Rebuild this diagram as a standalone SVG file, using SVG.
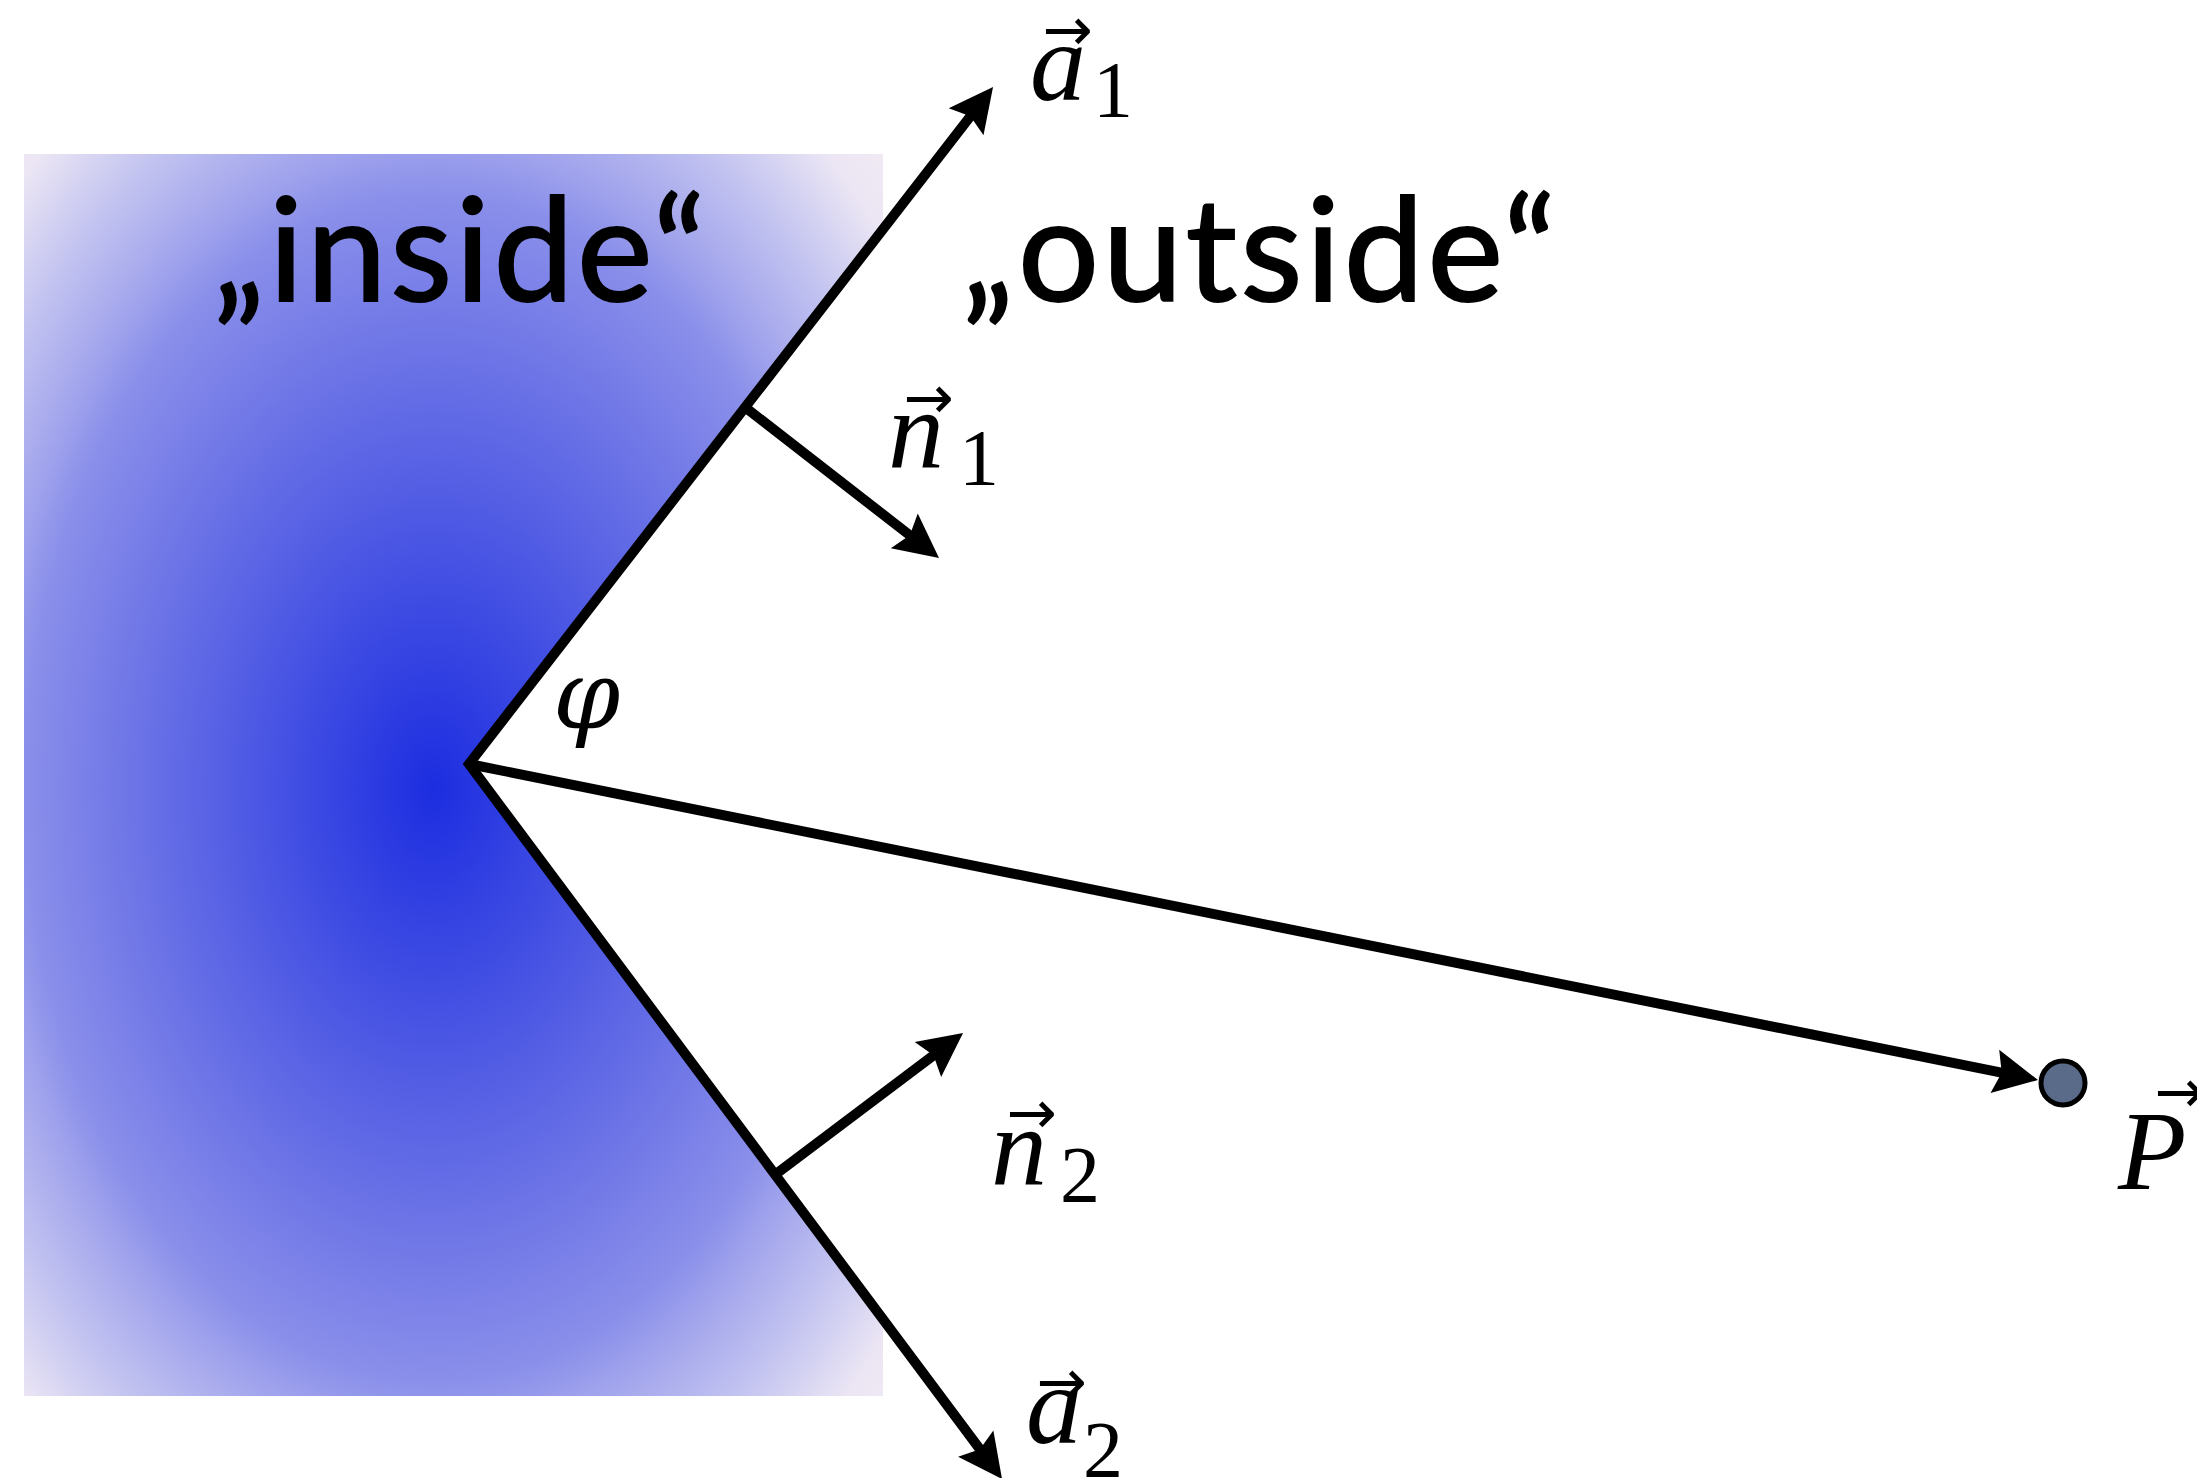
<svg xmlns="http://www.w3.org/2000/svg" width="2197" height="1478" viewBox="0 0 2197 1478">
<style>
.ln{fill:none;stroke:#000;stroke-width:10;stroke-linejoin:miter;stroke-linecap:butt}
.big{font-family:Lato,"Open Sans","Liberation Sans",sans-serif;font-size:143px;letter-spacing:3.5px;fill:#000;stroke:#000;stroke-width:2}
.m{font-family:"Liberation Serif","DejaVu Serif",serif;font-style:italic;font-size:112px;fill:#000}
.phi{font-family:"DejaVu Serif","Liberation Serif",serif;font-style:italic;font-size:96px;fill:#000}
.s{font-family:"Liberation Serif","DejaVu Serif",serif;font-size:80px;fill:#000}
.acc{font-family:"DejaVu Sans","Liberation Sans",sans-serif;font-size:60px;fill:#000;text-anchor:middle}
</style>
<defs>
<radialGradient id="g" gradientUnits="userSpaceOnUse" cx="434" cy="788" r="620" gradientTransform="translate(434 788) scale(1 1.45) translate(-434 -788)">
<stop offset="0" stop-color="#1c2de0"/>
<stop offset="0.47" stop-color="#6a72e6"/>
<stop offset="0.66" stop-color="#8a8fea"/>
<stop offset="0.72" stop-color="#a0a3ec"/>
<stop offset="0.85" stop-color="#c8c8f1"/>
<stop offset="0.95" stop-color="#ece6f4"/>
<stop offset="1" stop-color="#efe9f4"/>
</radialGradient>
<marker id="ah" markerUnits="userSpaceOnUse" markerWidth="80" markerHeight="80" refX="0" refY="0" viewBox="-20 -40 80 80" orient="auto-start-reverse" overflow="visible">
<path d="M36,0 L-8,-22 L-1,0 L-8,22 Z" fill="#000"/>
</marker>
</defs>
<rect width="2197" height="1478" fill="#fff"/>
<g id="region">
<polygon points="24,154 883,154 883,229 469,764 883,1319 883,1396 24,1396" fill="url(#g)"/>
</g>
<g id="connectors">
<polyline class="ln" points="971,115.5 469,764 980.5,1450.1" marker-end="url(#ah)" marker-start="url(#ah)"/>
<line class="ln" x1="469" y1="764" x2="2002.7" y2="1072.9" marker-end="url(#ah)"/>
<line class="ln" x1="746" y1="408" x2="910.6" y2="535.9" marker-end="url(#ah)"/>
<line class="ln" x1="776" y1="1174" x2="934.3" y2="1054.7" marker-end="url(#ah)"/>
</g>
<g id="point-P">
<circle cx="2063" cy="1083" r="22" fill="#5a6b8a" stroke="#000" stroke-width="5"/>
</g>
<g id="label-inside"><text class="big" x="213" y="301">„inside“</text></g>
<g id="label-outside"><text class="big" x="962" y="301">„outside“</text></g>
<g id="label-a1"><text class="acc" x="1068" y="50">→</text><text class="m" x="1030" y="100">a</text><text class="s" x="1093" y="117">1</text></g>
<g id="label-n1"><text class="acc" x="929" y="418">→</text><text class="m" x="888" y="468">n</text><text class="s" x="959" y="485">1</text></g>
<g id="label-n2"><text class="acc" x="1032" y="1133">→</text><text class="m" x="991" y="1185">n</text><text class="s" x="1060" y="1202">2</text></g>
<g id="label-a2"><text class="acc" x="1062" y="1402">→</text><text class="m" x="1026" y="1443">a</text><text class="s" x="1083" y="1477">2</text></g>
<g id="label-P"><text class="acc" x="2180" y="1112">→</text><text class="m" x="2118" y="1189">P</text></g>
<g id="label-phi"><text class="phi" x="553" y="728">φ</text></g>
</svg>
